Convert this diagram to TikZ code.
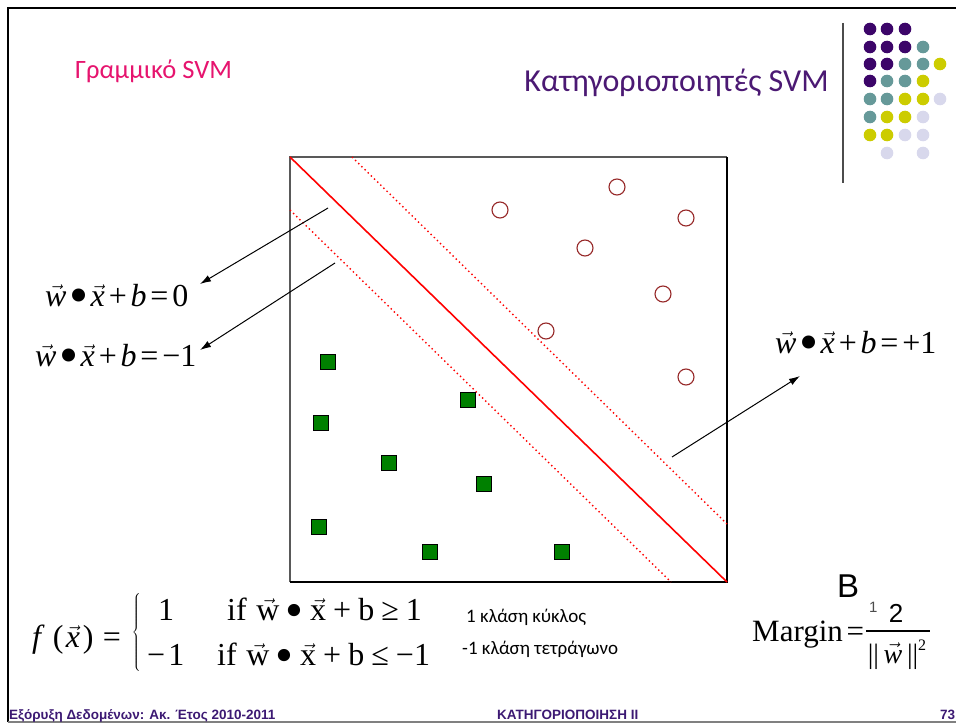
\documentclass[tikz,border=0pt]{standalone}
\usepackage{fontspec}
\usepackage{graphicx}
\setmainfont{Liberation Serif}
\newfontfamily\calib{Carlito}
\newfontfamily\arial{Liberation Sans}
\usetikzlibrary{arrows.meta}
\definecolor{pinkt}{RGB}{230,20,110}
\definecolor{purplet}{RGB}{75,25,115}
\definecolor{dp}{RGB}{60,5,105}
\definecolor{dt}{RGB}{102,153,153}
\definecolor{dy}{RGB}{204,204,0}
\definecolor{dl}{RGB}{216,216,236}
\definecolor{circ}{RGB}{150,40,40}
\definecolor{sq}{RGB}{0,128,0}
\definecolor{foot}{RGB}{60,25,115}
\newcommand\fs[1]{\fontsize{#1}{#1}\selectfont}
\newcommand\va[1]{\ensuremath{\vec{\hbox{#1}}}}
\newcommand\blt{\hspace{0.08em}\raisebox{-0.22em}{\scalebox{1.7}{\textbullet}}\hspace{0.08em}}
\newcommand\bltw{\hspace{0.2em}\raisebox{-0.22em}{\scalebox{1.6}{\textbullet}}\hspace{0.2em}}
\newcommand\op[1]{\hspace{0.12em}#1\hspace{0.12em}}
\newcommand\opw[1]{\hspace{0.22em}#1\hspace{0.22em}}
\tikzset{
  sqr/.style={rectangle, minimum size=15pt, inner sep=0pt, fill=sq, draw=black, line width=0.9pt},
  crc/.style={circle, minimum size=16pt, inner sep=0pt, draw=circ, line width=1.1pt},
  dotp/.style={circle, minimum size=12.6pt, inner sep=0pt, fill=#1},
  arr/.style={line width=1pt, -{Latex[length=11pt,width=7pt]}},
  eq/.style={anchor=base west, font=\fs{32}, inner sep=0pt},
  sep/.style={red, line width=1.6pt},
  marg/.style={red, line width=1.4pt, dash pattern=on 1.4pt off 3pt},
  small/.style={anchor=base west, font=\calib\fs{19}, inner sep=0pt},
  foottext/.style={anchor=base west, font=\arial\bfseries\fs{13.5}, text=foot, inner sep=0pt},
}
\begin{document}
\begin{tikzpicture}[x=1pt,y=-1pt]
\useasboundingbox (0,0) rectangle (956,725);
% frame
\draw[line width=2.4pt] (8,722) -- (8,8) -- (956,8);
\draw[gray, line width=1.5pt] (8,722) -- (956,722);
% titles
\node[anchor=base west, text=pinkt, font=\calib\fs{26.5}, inner sep=0pt] (t1) at (75,78) {Γραμμικό SVM};
\node[anchor=base east, text=purplet, font=\calib\fs{32}, inner sep=0pt] (t2) at (829,92) {Κατηγοριοποιητές SVM};
% decoration
\draw[gray!60!black, line width=1.2pt] (843,23) -- (843,183);
\foreach \x/\y/\c [count=\i] in {870/29/dp,887/29/dp,905/29/dp,
  870/47/dp,887/47/dp,905/47/dp,923/47/dt,
  870/64/dp,887/64/dp,905/64/dt,923/64/dt,940/64/dy,
  870/81/dp,887/81/dt,905/81/dt,923/81/dy,
  870/99/dt,887/99/dt,905/99/dy,923/99/dy,940/99/dl,
  870/117/dt,887/117/dy,905/117/dy,923/117/dl,
  870/135/dy,887/135/dy,905/135/dl,923/135/dl,
  887/153/dl,923/153/dl}
  \node[dotp=\c] (d\i) at (\x,\y) {};
% box
\draw[gray!70!black, line width=1.3pt] (290,582) -- (290,157) -- (727,157);
\draw[black, line width=1.3pt] (727,157) -- (727,582) -- (290,582);
\draw[sep] (290,157) -- (727,582);
\draw[marg] (352,157) -- (727,524);
\draw[marg] (290,210) -- (671,582);
% circles
\foreach \x/\y [count=\i] in {500/210,617/187,686/218,585/248,663/294,546/331,686/377}
  \node[crc] (c\i) at (\x,\y) {};
% squares
\foreach \x/\y [count=\i] in {328/362,468/400,321/423,389/463,484/484,319/527,430/552,562/552}
  \node[sqr] (s\i) at (\x,\y) {};
% equations
\node[eq] (e0) at (45,306) {\va{\itshape w}\blt\va{\itshape x}\op{+}\textit{b}\op{=}0};
\node[eq] (em) at (35,366) {\va{\itshape w}\blt\va{\itshape x}\op{+}\textit{b}\op{=}−1};
\node[eq] (ep) at (775,353) {\va{\itshape w}\blt\va{\itshape x}\op{+}\textit{b}\op{=}+1};
% arrows
\coordinate (a1s) at (328,208); \coordinate (a1e) at (200,284);
\coordinate (a2s) at (335,263); \coordinate (a2e) at (200,350);
\coordinate (a3s) at (672,457); \coordinate (a3e) at (800,376);
\draw[arr] (a1s) -- (a1e);
\draw[arr] (a2s) -- (a2e);
\draw[arr] (a3s) -- (a3e);
% decision function
\node[eq] (fx) at (32,647) {\textit{f}\hspace{0.25em}(\hspace{0.08em}\va{\itshape x}\hspace{0.08em})\hspace{0.3em}=};
\node[inner sep=0pt] (br) at (137,634) {$\left\{\vrule height 39pt depth 39pt width 0pt\right.$};
\node[eq] (r1a) at (158,620) {1};
\node[eq] (r1b) at (227,620) {if\hspace{0.3em}\va{w}\bltw\va{x}\opw{+}b\opw{≥}1};
\node[eq] (r2a) at (147,665) {−\hspace{0.1em}1};
\node[eq] (r2b) at (217,665) {if\hspace{0.3em}\va{w}\bltw\va{x}\opw{+}b\opw{≤}−1};
\node[small] (l1) at (466,622) {1 κλάση κύκλος};
\node[small] (l2) at (462,654) {-1 κλάση τετράγωνο};
% margin
\node[anchor=base west, font=\arial\fs{33}, inner sep=0pt] (B) at (837,597) {B};
\node[anchor=base west, font=\arial\fs{15}, text=black!70, inner sep=0pt] (B1) at (869,612) {1};
\node[eq, font=\fs{31}] (mg) at (752,641) {Margin\op{=}};
\draw[line width=1.1pt] (866,631) -- (930,631);
\node[anchor=base, font=\arial\fs{26}, inner sep=0pt] (num) at (896,622) {2};
\node[anchor=base, font=\fs{28}, inner sep=0pt] (den) at (897,663) {||\,\va{\itshape w}\,||\raisebox{0.45em}{\fs{16}2}};
% footer
\node[foottext] (f1) at (9,719) {Εξόρυξη Δεδομένων: Ακ. Έτος 2010-2011};
\node[foottext] (f2) at (497,719) {ΚΑΤΗΓΟΡΙΟΠΟΙΗΣΗ ΙΙ};
\node[foottext] (f3) at (940,719) {73};
\end{tikzpicture}
\end{document}
